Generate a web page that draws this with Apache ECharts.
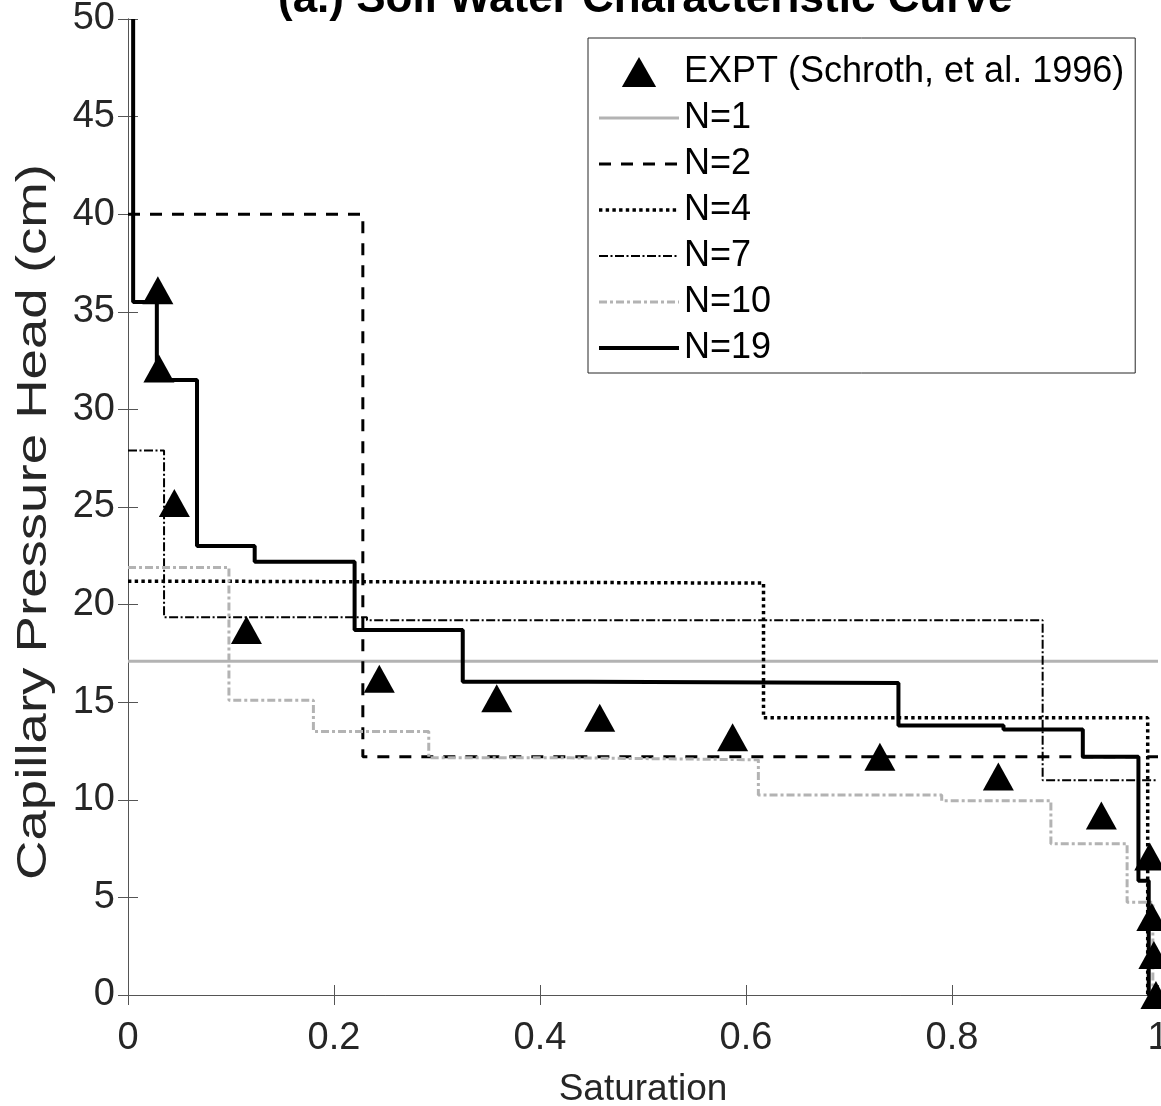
<!DOCTYPE html>
<html>
<head>
<meta charset="utf-8">
<script src="https://cdn.jsdelivr.net/npm/echarts@6/dist/echarts.min.js"></script>
<style>
html,body{margin:0;padding:0;background:#fff;}
#chart{width:1161px;height:1106px;}
</style>
</head>
<body>
<div id="chart"></div>
<script>
// ---- data ----
const titleText = '(a.) Soil Water Characteristic Curve';
const xAxisName = 'Saturation';
const yAxisName = 'Capillary Pressure Head (cm)';
const xTickValues = [0, 0.2, 0.4, 0.6, 0.8, 1];
const yTickValues = [0, 5, 10, 15, 20, 25, 30, 35, 40, 45, 50];

// Experimental data (Schroth et al. 1996)
const exptX = [0.029, 0.030, 0.045, 0.115, 0.244, 0.358, 0.458, 0.587, 0.730, 0.845, 0.945, 0.992, 0.994, 0.996, 0.998];
const exptY = [36.1, 32.1, 25.2, 18.7, 16.2, 15.2, 14.2, 13.2, 12.2, 11.2, 9.2, 7.1, 4.0, 2.05, 0.0];

// Step curves: each point starts a level that holds until the next x
const n1X = [0, 1];
const n1Y = [17.1, 17.1];
const n2X = [0, 0.228, 1];
const n2Y = [40.0, 12.2, 12.2];
const n4X = [0, 0.06, 0.617, 0.990, 1];
const n4Y = [21.2, 21.1, 14.2, 0, 0];
const n7X = [0, 0.035, 0.232, 0.888, 1];
const n7Y = [27.9, 19.35, 19.2, 11.0, 11.0];
const n10X = [0, 0.098, 0.18, 0.292, 0.429, 0.612, 0.79, 0.896, 0.97, 0.995, 1];
const n10Y = [21.9, 15.1, 13.5, 12.15, 12.05, 10.25, 9.95, 7.75, 4.75, 0, 0];
const n19X = [0.005, 0.005, 0.028, 0.067, 0.123, 0.22, 0.325, 0.447, 0.748, 0.85, 0.927, 0.981, 0.991, 1];
const n19Y = [50, 35.5, 31.5, 23.0, 22.2, 18.7, 16.05, 15.98, 13.8, 13.6, 12.2, 5.85, 0, 0];

const zip = (xs, ys) => xs.map((x, i) => [x, ys[i]]);
const FONT = "'Liberation Sans', Arial, Helvetica, sans-serif";
const AX = '#555';
const TXT = '#262626';

const styles = {
  'N=1':  { color: '#b3b3b3', width: 3,   type: 'solid' },
  'N=2':  { color: '#000',    width: 3,   type: [12, 10] },
  'N=4':  { color: '#000',    width: 3.5, type: [3.4, 3.3] },
  'N=7':  { color: '#000',    width: 2,   type: [9, 2.5, 2, 2.5] },
  'N=10': { color: '#b3b3b3', width: 3,   type: [8, 3, 3, 3] },
  'N=19': { color: '#000',    width: 4,   type: 'solid' }
};

function stepSeries(name, xs, ys, z) {
  const s = styles[name];
  return {
    name: name, type: 'line', step: 'end', data: zip(xs, ys),
    symbol: 'none', silent: true, animation: false, z: z,
    lineStyle: { color: s.color, width: s.width, type: s.type, cap: 'butt' },
    itemStyle: { color: s.color }
  };
}
const lineLegend = name => ({
  name: name, itemStyle: { opacity: 0 },
  lineStyle: { color: styles[name].color, width: styles[name].width, type: styles[name].type, cap: 'butt' }
});

const chart = echarts.init(document.getElementById('chart'));
chart.setOption({
  animation: false,
  backgroundColor: '#fff',
  title: {
    text: titleText, left: 278, top: -22, padding: 0,
    textStyle: { fontFamily: FONT, fontSize: 44, fontWeight: 'bold', color: '#000' }
  },
  grid: { left: 128, right: 3, top: 19, bottom: 111, containLabel: false, outerBoundsMode: 'none' },
  legend: {
    orient: 'vertical', left: 588, top: 38,
    padding: [16, 11, 7, 9],
    itemWidth: 80, itemHeight: 30, itemGap: 10, symbolKeepAspect: true,
    backgroundColor: '#fff', borderColor: TXT, borderWidth: 1,
    textStyle: { fontFamily: FONT, fontSize: 36, lineHeight: 36, color: '#000' },
    data: [
      { name: 'EXPT (Schroth, et al. 1996)', icon: 'path://M0,28L16,0L32,28Z' },
      lineLegend('N=1'), lineLegend('N=2'), lineLegend('N=4'),
      lineLegend('N=7'), lineLegend('N=10'), lineLegend('N=19')
    ]
  },
  graphic: [{
    type: 'text', x: 34, y: 522, rotation: Math.PI / 2, scaleX: 1.3,
    style: {
      text: yAxisName, fill: TXT, textAlign: 'center', textVerticalAlign: 'middle',
      font: "42px 'Liberation Sans', Arial, sans-serif"
    }
  }],
  xAxis: [{
    type: 'value', min: 0, max: 1, interval: 0.2, position: 'bottom',
    axisLine: { lineStyle: { color: AX, width: 1 } },
    axisTick: { inside: true, length: 10, lineStyle: { color: AX } },
    axisLabel: { fontFamily: FONT, fontSize: 38, color: TXT, margin: 25,
      formatter: v => String(Math.round(v * 10) / 10) },
    splitLine: { show: false },
    name: xAxisName, nameLocation: 'middle', nameGap: 76,
    nameTextStyle: { fontFamily: FONT, fontSize: 37, color: TXT }
  }, {
    type: 'value', min: 0, max: 1, interval: 0.2, position: 'top',
    axisLine: { lineStyle: { color: AX, width: 1 } },
    axisTick: { inside: true, length: 10, lineStyle: { color: AX } },
    axisLabel: { show: false }, splitLine: { show: false }
  }],
  yAxis: [{
    type: 'value', min: 0, max: 50, interval: 5, position: 'left',
    axisLine: { lineStyle: { color: AX, width: 1 } },
    axisTick: { inside: true, length: 10, lineStyle: { color: AX } },
    axisLabel: { fontFamily: FONT, fontSize: 38, color: TXT, margin: 13 },
    splitLine: { show: false }
  }, {
    type: 'value', min: 0, max: 50, interval: 5, position: 'right',
    axisLine: { lineStyle: { color: AX, width: 1 } },
    axisTick: { inside: true, length: 10, lineStyle: { color: AX } },
    axisLabel: { show: false }, splitLine: { show: false }
  }],
  series: [
    {
      name: 'EXPT (Schroth, et al. 1996)', type: 'scatter', data: zip(exptX, exptY),
      symbol: 'triangle', symbolSize: [31, 28], clip: false, z: 10,
      itemStyle: { color: '#000', opacity: 1 }, silent: true
    },
    stepSeries('N=1', n1X, n1Y, 2),
    stepSeries('N=2', n2X, n2Y, 3),
    stepSeries('N=4', n4X, n4Y, 4),
    stepSeries('N=7', n7X, n7Y, 5),
    stepSeries('N=10', n10X, n10Y, 6),
    stepSeries('N=19', n19X, n19Y, 7)
  ]
});
</script>
</body>
</html>
